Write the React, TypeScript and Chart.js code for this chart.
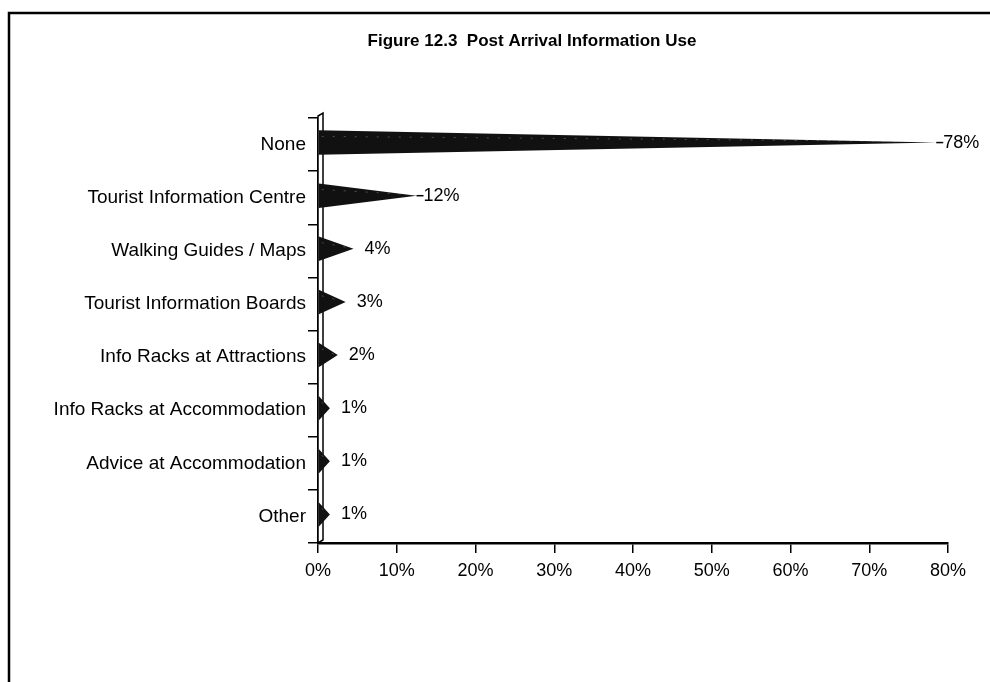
import React, { useEffect, useRef } from "react";
import { Chart, registerables } from "chart.js";

Chart.register(...registerables);

const categories: string[] = [
  "None",
  "Tourist Information Centre",
  "Walking Guides / Maps",
  "Tourist Information Boards",
  "Info Racks at Attractions",
  "Info Racks at Accommodation",
  "Advice at Accommodation",
  "Other",
];
const usage: number[] = [78, 12, 4, 3, 2, 1, 1, 1];
const titleText = "Figure 12.3  Post Arrival Information Use";
const xTickMax = 80;
const xTickStep = 10;

const FONT = "'Liberation Sans', Arial, Helvetica, sans-serif";

const framePlugin = {
  id: "frame",
  beforeDraw(chart: any) {
    const ctx = chart.ctx;
    ctx.save();
    ctx.fillStyle = "#ffffff";
    ctx.fillRect(0, 0, chart.width, chart.height);
    ctx.strokeStyle = "#000";
    ctx.lineWidth = 2.5;
    ctx.beginPath();
    ctx.moveTo(9, chart.height);
    ctx.lineTo(9, 13);
    ctx.lineTo(chart.width, 13);
    ctx.stroke();
    // title
    ctx.fillStyle = "#000";
    ctx.font = `bold 17px ${FONT}`;
    ctx.textAlign = "center";
    ctx.textBaseline = "middle";
    ctx.fillText(titleText, 532, 41);
    ctx.restore();
  },
};

const pyramidPlugin = {
  id: "pyramids",
  afterDatasetsDraw(chart: any) {
    const ctx = chart.ctx;
    const meta = chart.getDatasetMeta(0);
    const area = chart.chartArea;
    ctx.save();
    // 3D wall of the value axis
    ctx.fillStyle = "#fff";
    ctx.strokeStyle = "#000";
    ctx.lineWidth = 1.5;
    ctx.beginPath();
    ctx.moveTo(area.left, area.bottom);
    ctx.lineTo(area.left, area.top - 2);
    ctx.lineTo(area.left + 5, area.top - 5);
    ctx.lineTo(area.left + 5, area.bottom - 3);
    ctx.closePath();
    ctx.fill();
    ctx.stroke();

    meta.data.forEach((bar: any, i: number) => {
      const v = usage[i];
      const base = bar.base;
      const tip = bar.x + 4;
      const cy = bar.y - 2;
      const h = bar.height;
      ctx.fillStyle = "#111";
      ctx.beginPath();
      ctx.moveTo(base, cy - h / 2);
      ctx.lineTo(tip, cy);
      ctx.lineTo(base, cy + h / 2);
      ctx.closePath();
      ctx.fill();
      // speckled highlight
      ctx.strokeStyle = "rgba(255,255,255,0.25)";
      ctx.lineWidth = 1;
      ctx.setLineDash([2, 9]);
      ctx.beginPath();
      ctx.moveTo(base + 3, cy - h / 4);
      ctx.lineTo(tip - 4, cy - 1);
      ctx.stroke();
      ctx.setLineDash([]);

      // data label
      ctx.fillStyle = "#000";
      ctx.font = `18px ${FONT}`;
      ctx.textAlign = "left";
      ctx.textBaseline = "middle";
      let lx = tip + 11;
      if (v >= 10) {
        ctx.strokeStyle = "#000";
        ctx.lineWidth = 1.5;
        ctx.beginPath();
        ctx.moveTo(tip, cy);
        ctx.lineTo(tip + 7, cy);
        ctx.stroke();
        lx = tip + 7;
      }
      ctx.fillText(`${v}%`, lx, cy);
    });
    ctx.restore();
  },
};

export default function App() {
  const ref = useRef<HTMLCanvasElement | null>(null);
  useEffect(() => {
    if (!ref.current) return;
    const chart = new Chart(ref.current, {
      type: "bar",
      data: {
        labels: categories,
        datasets: [
          {
            data: usage,
            backgroundColor: "rgba(0,0,0,0)",
            borderWidth: 0,
            barPercentage: 0.46,
            categoryPercentage: 1,
          },
        ],
      },
      options: {
        indexAxis: "y",
        responsive: false,
        animation: false,
        events: [],
        layout: { padding: { top: 118, right: 42, left: 0, bottom: 0 } },
        plugins: {
          legend: { display: false },
          title: { display: false },
          tooltip: { enabled: false },
        },
        scales: {
          x: {
            min: 0,
            max: xTickMax,
            afterFit(scale: any) {
              scale.height = 682 - 543;
            },
            ticks: {
              stepSize: xTickStep,
              color: "#000",
              padding: 7,
              font: { family: FONT, size: 18 },
              callback: (v: any) => `${v}%`,
            },
            grid: {
              drawOnChartArea: false,
              drawTicks: true,
              tickLength: 10,
              color: "#000",
              lineWidth: 1.5,
            },
            border: { display: true, color: "#000", width: 2.5 },
          },
          y: {
            afterFit(scale: any) {
              scale.width = 318;
            },
            ticks: {
              color: "#000",
              padding: 2,
              font: { family: FONT, size: 19 },
            },
            grid: {
              drawOnChartArea: false,
              drawTicks: true,
              tickLength: 10,
              color: "#000",
              lineWidth: 1.5,
            },
            border: { display: true, color: "#000", width: 1.5 },
          },
        },
      },
      plugins: [framePlugin, pyramidPlugin],
    });
    return () => chart.destroy();
  }, []);
  return (
    <div style={{ position: "fixed", left: 0, top: 0, width: 990, height: 682, background: "#fff" }}>
      <canvas ref={ref} width={990} height={682} style={{ display: "block" }} />
    </div>
  );
}
